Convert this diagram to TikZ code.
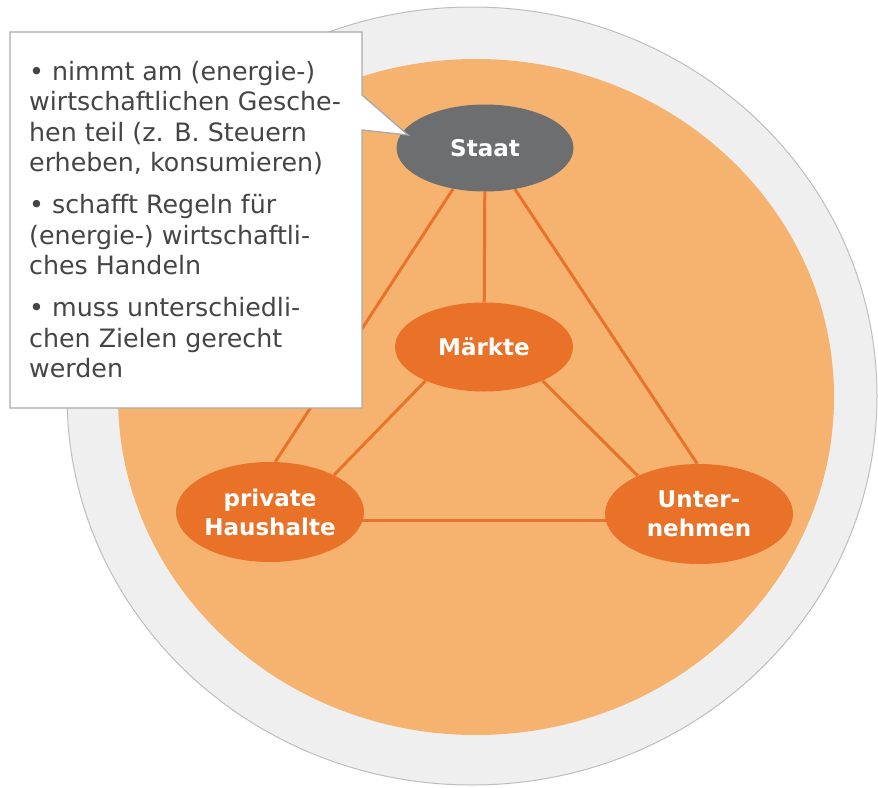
\documentclass[tikz,border=0pt]{standalone}
\usepackage{fontspec}
\setmainfont{DejaVu Sans}
\usetikzlibrary{shapes.geometric}

\definecolor{ringgrey}{HTML}{EFEFEF}
\definecolor{ringedge}{HTML}{BEBEBE}
\definecolor{discorange}{HTML}{F6B36F}
\definecolor{actororange}{HTML}{E97128}
\definecolor{linkorange}{HTML}{E8732B}
\definecolor{stategrey}{HTML}{6D6E70}
\definecolor{notetext}{HTML}{454545}
\definecolor{noteedge}{HTML}{A9A9A9}

\pgfdeclarelayer{backdrop}
\pgfdeclarelayer{links}
\pgfsetlayers{backdrop,links,main}

\tikzset{
  actor/.style={ellipse, fill=actororange, text=white, align=center,
    inner sep=0pt, font=\fontsize{23}{29}\selectfont\bfseries},
  stateactor/.style={actor, fill=stategrey},
  link/.style={draw=linkorange, line width=3pt},
  notebox/.style={fill=white, draw=noteedge, line width=1.3pt, line join=miter},
  notetextstyle/.style={text=notetext, align=left, inner sep=0pt,
    font=\fontsize{25.3}{30.5}\selectfont}
}

\begin{document}
\begin{tikzpicture}[x=1pt,y=-1pt]
  \useasboundingbox (0,0) rectangle (878,787);

  % outer ring and inner disc
  \begin{pgfonlayer}{backdrop}
    \fill[ringgrey, draw=ringedge, line width=1pt] (472,396) ellipse [x radius=405, y radius=389];
    \fill[discorange] (476,397) ellipse [x radius=358, y radius=338];
  \end{pgfonlayer}

  % actors
  \node[stateactor, minimum width=177pt, minimum height=87pt] (staat) at (485,148) {Staat};
  \node[actor, minimum width=178pt, minimum height=89pt] (maerkte) at (484,347) {Märkte};
  \node[actor, minimum width=188pt, minimum height=100pt] (haus) at (270,512) {private\\Haushalte};
  \node[actor, minimum width=188pt, minimum height=100pt] (unter) at (699,514) {Unter-\\nehmen};

  % connections between the actors
  \begin{pgfonlayer}{links}
    \draw[link] (staat) -- (maerkte);
    \draw[link] (staat.232) -- (haus.84);
    \draw[link] (staat.306) -- (unter.92);
    \draw[link] (maerkte.210) -- (haus.30);
    \draw[link] (maerkte.330) -- (unter.148);
    \draw[link] ([yshift=-8pt]haus.center) -- ([yshift=-6pt]unter.center);
  \end{pgfonlayer}

  % callout box with its pointer towards the state
  \coordinate (tip) at (408,135);
  \draw[notebox] (10,32) -- (362,32) -- (362,95) -- (tip) -- (362,130)
    -- (362,408) -- (10,408) -- cycle;

  % callout text
  \node[notetextstyle, anchor=north west] (note) at (29,61) {%
    • nimmt am (energie-)\\
    wirtschaftlichen Gesche-\\
    hen teil (z. B. Steuern\\
    erheben, konsumieren)\\[11.5pt]
    • schafft Regeln für\\
    (energie-) wirtschaftli-\\
    ches Handeln\\[11.5pt]
    • muss unterschiedli-\\
    chen Zielen gerecht\\
    werden};
\end{tikzpicture}
\end{document}
